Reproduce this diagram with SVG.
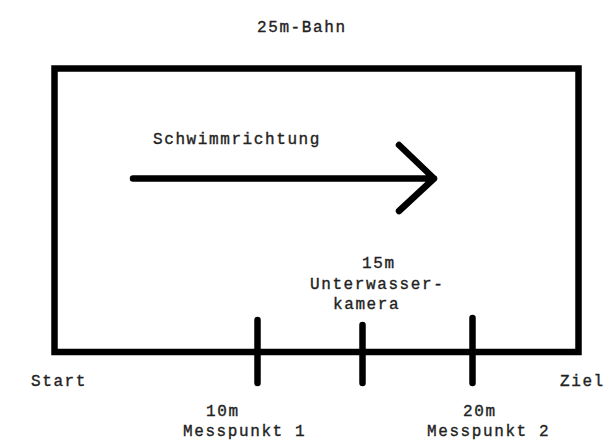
<svg xmlns="http://www.w3.org/2000/svg" width="614" height="446" viewBox="0 0 614 446">
<style>
text{font-family:"Liberation Mono","Courier New",monospace;font-size:16px;letter-spacing:1.6px;fill:#222;stroke:#222;stroke-width:0.35}
.ln{stroke:#000;stroke-width:6.5;fill:none;stroke-linecap:round;stroke-linejoin:round}
</style>
<rect width="614" height="446" fill="#fff"/>
<g id="pool"><rect class="ln" x="54.5" y="68.5" width="524" height="283.5" style="stroke-linecap:butt;stroke-linejoin:miter"/></g>
<g id="title"><text x="257" y="32">25m-Bahn</text></g>
<g id="direction"><text x="153" y="144">Schwimmrichtung</text></g>
<g id="connectors">
<path class="ln" d="M133 178.5H434M399 145L434 178.5L399 211"/>
<path class="ln" d="M257.5 320V383M362.5 325V383M472.5 318V383"/>
</g>
<g id="start"><text x="31" y="386">Start</text></g>
<g id="ziel"><text x="560" y="386">Ziel</text></g>
<g id="camera"><text x="362" y="268">15m</text><text x="310" y="289">Unterwasser-</text><text x="333" y="309">kamera</text></g>
<g id="mp1"><text x="206" y="416">10m</text><text x="183" y="436">Messpunkt 1</text></g>
<g id="mp2"><text x="463" y="416">20m</text><text x="427" y="436">Messpunkt 2</text></g>
</svg>
